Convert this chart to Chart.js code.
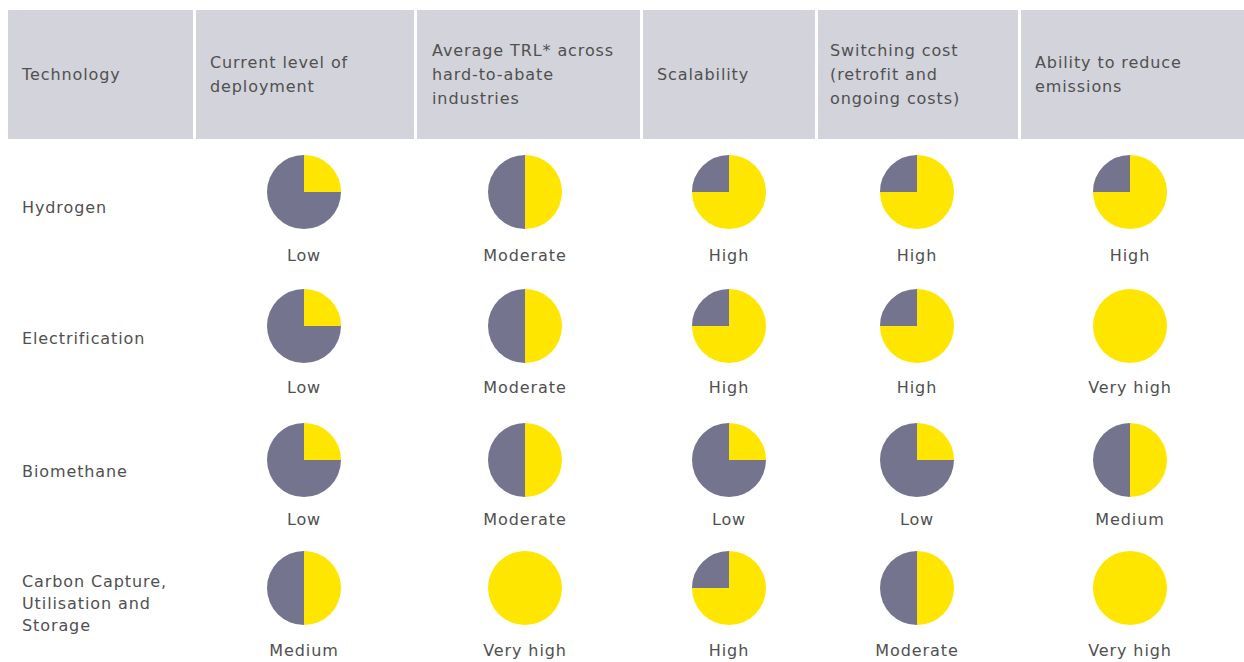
<!DOCTYPE html>
<html>
<head>
<meta charset="utf-8">
<script src="https://cdn.jsdelivr.net/npm/chart.js@4.4.1/dist/chart.umd.min.js"></script>
<style>
  html, body { margin: 0; padding: 0; background: #fff; }
  body { width: 1244px; height: 662px; position: relative; overflow: hidden;
         font-family: "DejaVu Sans", sans-serif; color: #505050; }
  .hd { position: absolute; top: 10px; height: 129px; background: #d3d3db;
        display: flex; align-items: center; box-sizing: border-box;
        font-size: 16px; letter-spacing: 0.9px; line-height: 24px; }
  .row { position: absolute; left: 22px; font-size: 16px; letter-spacing: 0.9px; line-height: 22px; transform: translateY(-50%); }
  .val { position: absolute; font-size: 16px; letter-spacing: 0.9px; transform: translate(-50%, -50%); white-space: nowrap; }
  canvas.pie { position: absolute; }
</style>
</head>
<body>
<div id="root"></div>
<script>
// column headers and cell layout
const headers = ['Technology', 'Current level of<br>deployment',
  'Average TRL* across<br>hard-to-abate<br>industries', 'Scalability',
  'Switching cost<br>(retrofit and<br>ongoing costs)', 'Ability to reduce<br>emissions']
const technologies = ['Hydrogen', 'Electrification', 'Biomethane', 'Carbon Capture,<br>Utilisation and<br>Storage']

// quarters filled in yellow (out of 4) per technology
const hydrogen = [1, 2, 3, 3, 3]
const electrification = [1, 2, 3, 3, 4]
const biomethane = [1, 2, 1, 1, 2]
const ccus = [2, 4, 3, 2, 4]
const scores = [hydrogen, electrification, biomethane, ccus]

const hydrogenLabels = ['Low', 'Moderate', 'High', 'High', 'High']
const electrificationLabels = ['Low', 'Moderate', 'High', 'High', 'Very high']
const biomethaneLabels = ['Low', 'Moderate', 'Low', 'Low', 'Medium']
const ccusLabels = ['Medium', 'Very high', 'High', 'Moderate', 'Very high']
const ratingLabels = [hydrogenLabels, electrificationLabels, biomethaneLabels, ccusLabels]

const YELLOW = '#ffe600'
const GREY = '#74748e'

const colLeft = [8, 196, 417, 643, 818, 1021]
const colRight = [193, 414, 640, 815, 1018, 1244]
const colTextX = [22, 210, 432, 657, 830, 1035]
const pieX = [304, 525, 729, 917, 1130]
const rowY = [192, 326, 460, 588]
const rowLabelY = [208, 339, 472, 604]
const valY = [255, 387, 519, 650]
const R = 37

const root = document.getElementById('root')

headers.forEach((h, i) => {
    let d = document.createElement('div')
    d.className = 'hd'
    d.style.left = colLeft[i] + 'px'
    d.style.width = (colRight[i] - colLeft[i]) + 'px'
    d.style.paddingLeft = (colTextX[i] - colLeft[i]) + 'px'
    d.innerHTML = '<div>' + h + '</div>'
    root.appendChild(d)
})

technologies.forEach((t, r) => {
    let d = document.createElement('div')
    d.className = 'row'
    d.style.top = rowLabelY[r] + 'px'
    d.innerHTML = t
    root.appendChild(d)

    scores[r].forEach((v, c) => {
        let cv = document.createElement('canvas')
        cv.className = 'pie'
        cv.width = 2 * R
        cv.height = 2 * R
        cv.style.left = (pieX[c] - R) + 'px'
        cv.style.top = (rowY[r] - R) + 'px'
        root.appendChild(cv)

        new Chart(cv, {
            type: 'pie',
            data: {
                labels: ['filled', 'empty'],
                datasets: [{
                    data: [v, 4 - v],
                    backgroundColor: [YELLOW, GREY],
                    borderWidth: 0
                }]
            },
            options: {
                responsive: false,
                animation: false,
                layout: { padding: 0 },
                plugins: { legend: { display: false }, tooltip: { enabled: false } }
            }
        })

        let lb = document.createElement('div')
        lb.className = 'val'
        lb.style.left = pieX[c] + 'px'
        lb.style.top = valY[r] + 'px'
        lb.textContent = ratingLabels[r][c]
        root.appendChild(lb)
    })
})
</script>
</body>
</html>
